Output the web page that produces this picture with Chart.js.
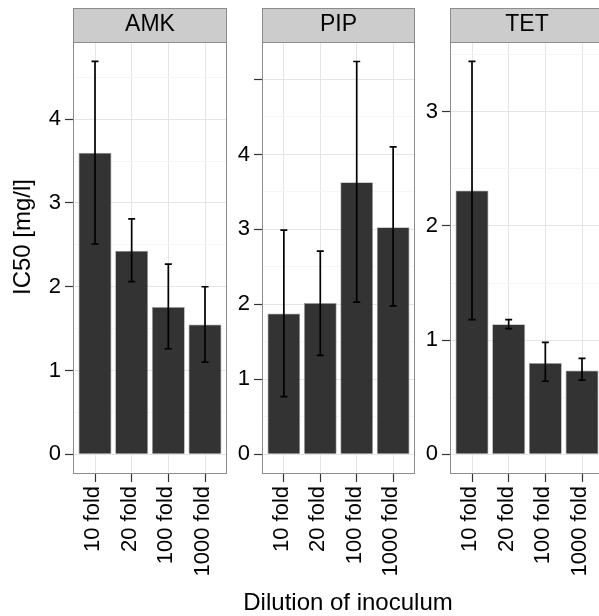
<!DOCTYPE html>
<html><head><meta charset="utf-8">
<script src="https://cdn.jsdelivr.net/npm/chart.js@4"></script>
<style>
html,body{margin:0;padding:0;background:#fff;overflow:hidden;width:599px;height:616px;}
.panel{position:absolute;top:0;height:616px;}
.t{position:absolute;font-family:'Liberation Sans',Arial,Helvetica,sans-serif;font-size:24px;line-height:24px;color:#000;white-space:nowrap;}
</style></head><body>
<div class="panel" style="left:0px;width:227px"><canvas id="c0"></canvas></div>
<div class="panel" style="left:227px;width:188px"><canvas id="c1"></canvas></div>
<div class="panel" style="left:415px;width:189px"><canvas id="c2"></canvas></div>
<div class="t" style="left:348px;top:590px;transform:translateX(-50%)">Dilution of inoculum</div>
<div class="t" style="left:22px;top:237px;transform:translate(-50%,-50%) rotate(-90deg)">IC50 [mg/l]</div>
<script>
// ---- data ----
const categories = ['10 fold', '20 fold', '100 fold', '1000 fold'];
const drugs = ['AMK', 'PIP', 'TET'];

const amkMean = [3.60, 2.43, 1.76, 1.55];
const amkLo   = [2.51, 2.06, 1.26, 1.10];
const amkHi   = [4.69, 2.81, 2.27, 2.00];

const pipMean = [1.88, 2.02, 3.63, 3.03];
const pipLo   = [0.77, 1.32, 2.03, 1.98];
const pipHi   = [2.99, 2.71, 5.24, 4.10];

const tetMean = [2.31, 1.14, 0.80, 0.735];
const tetLo   = [1.18, 1.10, 0.64, 0.65];
const tetHi   = [3.44, 1.18, 0.98, 0.84];

const amkTicks = [0, 1, 2, 3, 4];
const amkTickLabels = ['0', '1', '2', '3', '4'];
const pipTicks = [0, 1, 2, 3, 4, 5];
const pipTickLabels = ['0', '1', '2', '3', '4', ''];
const tetTicks = [0, 1, 2, 3];
const tetTickLabels = ['0', '1', '2', '3'];

const amkRange = [-0.2345, 4.92];
const pipRange = [-0.262, 5.50];
const tetRange = [-0.172, 3.61];

// ---- drawing ----
Chart.defaults.font.family = "'Liberation Sans', Arial, Helvetica, sans-serif";
Chart.defaults.color = '#000';

const stripPlugin = {
  id: 'strip',
  beforeDraw(chart) {
    const ca = chart.chartArea, ctx = chart.ctx;
    const tb = chart.titleBlock;
    const top = tb ? tb.top : 8;
    ctx.save();
    ctx.fillStyle = '#CCCCCC';
    ctx.fillRect(ca.left, top, ca.right - ca.left, ca.top - top);
    ctx.strokeStyle = '#8C8C8C';
    ctx.lineWidth = 1;
    ctx.strokeRect(ca.left + 0.5, top + 0.5, ca.right - ca.left - 1, ca.top - top);
    ctx.restore();
  },
  afterDatasetsDraw(chart) {
    const ctx = chart.ctx, xs = chart.scales.x, ys = chart.scales.y;
    const ds = chart.data.datasets[0];
    ctx.save();
    ctx.strokeStyle = '#000';
    ctx.lineWidth = 1.7;
    ds.errLo.forEach((lo, i) => {
      const x = xs.getPixelForValue(i);
      const y1 = ys.getPixelForValue(lo);
      const y2 = ys.getPixelForValue(ds.errHi[i]);
      ctx.beginPath();
      ctx.moveTo(x, y1); ctx.lineTo(x, y2);
      ctx.moveTo(x - 3.5, y1); ctx.lineTo(x + 3.5, y1);
      ctx.moveTo(x - 3.5, y2); ctx.lineTo(x + 3.5, y2);
      ctx.stroke();
    });
    const ca = chart.chartArea;
    ctx.strokeStyle = '#8C8C8C';
    ctx.lineWidth = 1;
    ctx.strokeRect(ca.left + 0.5, ca.top + 0.5, ca.right - ca.left - 1, ca.bottom - ca.top - 1);
    ctx.restore();
  }
};

function makePanel(id, name, mean, lo, hi, ticks, tickLabels, range, axisW) {
  const vals = ticks.slice();
  ticks.forEach((t, i) => {
    const m = t + 0.5;
    if (m < range[1] - 0.02) vals.push(m);
  });
  vals.sort((a, b) => a - b);
  const isMajor = v => ticks.indexOf(v) >= 0;
  new Chart(document.getElementById(id), {
    type: 'bar',
    data: {
      datasets: [{
        data: mean.map((v, i) => ({ x: i, y: v })),
        errLo: lo,
        errHi: hi,
        backgroundColor: '#333333',
        borderColor: '#A6A6A6',
        borderWidth: 0.8,
        barPercentage: 0.9,
        categoryPercentage: 1.0
      }]
    },
    options: {
      responsive: true,
      maintainAspectRatio: false,
      animation: false,
      events: [],
      layout: { padding: { top: 8, left: 0, right: 0, bottom: 0 } },
      plugins: {
        legend: { display: false },
        tooltip: { enabled: false },
        title: {
          display: true, text: name, fullSize: false, color: '#000',
          font: { size: 23, weight: 'normal' },
          padding: { top: 3.2, bottom: 3.2 }
        }
      },
      scales: {
        x: {
          type: 'linear', min: -0.6, max: 3.6, offset: false,
          afterBuildTicks: s => { s.ticks = categories.map((c, i) => ({ value: i })); },
          afterFit: s => { s.height = 142; s.paddingLeft = 0; s.paddingRight = 0; },
          ticks: {
            autoSkip: false, minRotation: 90, maxRotation: 90, padding: 4, labelOffset: -2,
            color: '#000', font: { size: 22 },
            callback: v => categories[v]
          },
          grid: { offset: false, color: '#E5E5E5', tickColor: '#333', tickLength: 8, tickWidth: 1.2 },
          border: { display: false }
        },
        y: {
          type: 'linear', min: range[0], max: range[1],
          afterBuildTicks: s => { s.ticks = vals.map(v => ({ value: v })); },
          afterFit: s => { s.width = axisW; s.paddingTop = 0; s.paddingBottom = 0; },
          ticks: {
            autoSkip: false, padding: 4, color: '#000', font: { size: 22 },
            callback: v => { const i = ticks.indexOf(v); return i >= 0 ? tickLabels[i] : ''; }
          },
          grid: {
            color: c => (c.tick && isMajor(c.tick.value)) ? '#E5E5E5' : '#F5F5F5',
            tickColor: c => (c.tick && isMajor(c.tick.value)) ? '#333' : 'rgba(0,0,0,0)',
            tickLength: 8, tickWidth: 1.2
          },
          border: { display: false }
        }
      }
    },
    plugins: [stripPlugin]
  });
}

makePanel('c0', drugs[0], amkMean, amkLo, amkHi, amkTicks, amkTickLabels, amkRange, 73);
makePanel('c1', drugs[1], pipMean, pipLo, pipHi, pipTicks, pipTickLabels, pipRange, 35);
makePanel('c2', drugs[2], tetMean, tetLo, tetHi, tetTicks, tetTickLabels, tetRange, 35);
</script>
</body></html>
